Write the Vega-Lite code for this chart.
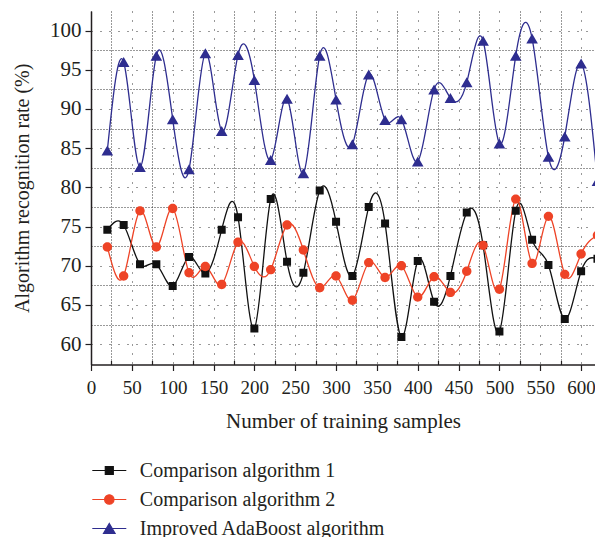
{
  "$schema": "https://vega.github.io/schema/vega-lite/v6.json",
  "width": 504,
  "height": 353.5,
  "autosize": {"type": "none"},
  "padding": {"left": 91, "top": 11, "right": 0, "bottom": 172.5},
  "background": "white",
  "config": {
    "view": {"stroke": null},
    "font": "Liberation Serif",
    "axis": {"labelFont": "Liberation Serif", "titleFont": "Liberation Serif", "titleFontWeight": "normal", "labelColor": "#231f20", "titleColor": "#231f20", "domainColor": "#231f20", "tickColor": "#231f20"},
    "legend": {"labelFont": "Liberation Serif", "orient": "none", "legendX": 7.3, "legendY": 448.5, "direction": "vertical", "symbolSize": 400, "labelFontSize": 20, "labelLimit": 400, "labelOffset": 19.5, "rowPadding": 8, "padding": 0, "labelColor": "#231f20", "symbolStrokeWidth": 1.2, "symbolOpacity": 1}
  },
  "data": {
    "values": [
      {"n": 20, "Comparison algorithm 1": 74.6, "Comparison algorithm 2": 72.4, "Improved AdaBoost algorithm": 84.7},
      {"n": 40, "Comparison algorithm 1": 75.2, "Comparison algorithm 2": 68.7, "Improved AdaBoost algorithm": 96.0},
      {"n": 60, "Comparison algorithm 1": 70.2, "Comparison algorithm 2": 77.0, "Improved AdaBoost algorithm": 82.6},
      {"n": 80, "Comparison algorithm 1": 70.2, "Comparison algorithm 2": 72.4, "Improved AdaBoost algorithm": 96.8},
      {"n": 100, "Comparison algorithm 1": 67.4, "Comparison algorithm 2": 77.3, "Improved AdaBoost algorithm": 88.7},
      {"n": 120, "Comparison algorithm 1": 71.1, "Comparison algorithm 2": 69.1, "Improved AdaBoost algorithm": 82.3},
      {"n": 140, "Comparison algorithm 1": 69.0, "Comparison algorithm 2": 69.9, "Improved AdaBoost algorithm": 97.1},
      {"n": 160, "Comparison algorithm 1": 74.6, "Comparison algorithm 2": 67.6, "Improved AdaBoost algorithm": 87.2},
      {"n": 180, "Comparison algorithm 1": 76.2, "Comparison algorithm 2": 73.0, "Improved AdaBoost algorithm": 96.9},
      {"n": 200, "Comparison algorithm 1": 62.0, "Comparison algorithm 2": 69.9, "Improved AdaBoost algorithm": 93.7},
      {"n": 220, "Comparison algorithm 1": 78.5, "Comparison algorithm 2": 69.5, "Improved AdaBoost algorithm": 83.5},
      {"n": 240, "Comparison algorithm 1": 70.5, "Comparison algorithm 2": 75.2, "Improved AdaBoost algorithm": 91.3},
      {"n": 260, "Comparison algorithm 1": 69.1, "Comparison algorithm 2": 72.0, "Improved AdaBoost algorithm": 81.8},
      {"n": 280, "Comparison algorithm 1": 79.6, "Comparison algorithm 2": 67.2, "Improved AdaBoost algorithm": 96.8},
      {"n": 300, "Comparison algorithm 1": 75.6, "Comparison algorithm 2": 68.7, "Improved AdaBoost algorithm": 91.2},
      {"n": 320, "Comparison algorithm 1": 68.7, "Comparison algorithm 2": 65.6, "Improved AdaBoost algorithm": 85.5},
      {"n": 340, "Comparison algorithm 1": 77.5, "Comparison algorithm 2": 70.4, "Improved AdaBoost algorithm": 94.4},
      {"n": 360, "Comparison algorithm 1": 75.4, "Comparison algorithm 2": 68.5, "Improved AdaBoost algorithm": 88.6},
      {"n": 380, "Comparison algorithm 1": 60.9, "Comparison algorithm 2": 70.0, "Improved AdaBoost algorithm": 88.7},
      {"n": 400, "Comparison algorithm 1": 70.6, "Comparison algorithm 2": 66.0, "Improved AdaBoost algorithm": 83.3},
      {"n": 420, "Comparison algorithm 1": 65.4, "Comparison algorithm 2": 68.6, "Improved AdaBoost algorithm": 92.5},
      {"n": 440, "Comparison algorithm 1": 68.7, "Comparison algorithm 2": 66.6, "Improved AdaBoost algorithm": 91.4},
      {"n": 460, "Comparison algorithm 1": 76.8, "Comparison algorithm 2": 69.3, "Improved AdaBoost algorithm": 93.4},
      {"n": 480, "Comparison algorithm 1": 72.6, "Comparison algorithm 2": 72.6, "Improved AdaBoost algorithm": 98.7},
      {"n": 500, "Comparison algorithm 1": 61.6, "Comparison algorithm 2": 67.0, "Improved AdaBoost algorithm": 85.6},
      {"n": 520, "Comparison algorithm 1": 77.0, "Comparison algorithm 2": 78.5, "Improved AdaBoost algorithm": 96.8},
      {"n": 540, "Comparison algorithm 1": 73.3, "Comparison algorithm 2": 70.3, "Improved AdaBoost algorithm": 99.0},
      {"n": 560, "Comparison algorithm 1": 70.1, "Comparison algorithm 2": 76.3, "Improved AdaBoost algorithm": 83.9},
      {"n": 580, "Comparison algorithm 1": 63.2, "Comparison algorithm 2": 68.9, "Improved AdaBoost algorithm": 86.5},
      {"n": 600, "Comparison algorithm 1": 69.3, "Comparison algorithm 2": 71.5, "Improved AdaBoost algorithm": 95.8},
      {"n": 620, "Comparison algorithm 1": 70.9, "Comparison algorithm 2": 73.9, "Improved AdaBoost algorithm": 80.8}
    ]
  },
  "transform": [
    {"fold": ["Comparison algorithm 1", "Comparison algorithm 2", "Improved AdaBoost algorithm"], "as": ["s", "v"]}
  ],
  "encoding": {
    "x": {
      "field": "n", "type": "quantitative",
      "scale": {"domain": [0, 617], "nice": false, "zero": false},
      "axis": {
        "title": "Number of training samples",
        "values": [0, 25, 50, 75, 100, 125, 150, 175, 200, 225, 250, 275, 300, 325, 350, 375, 400, 425, 450, 475, 500, 525, 550, 575, 600],
        "labelExpr": "datum.value % 50 === 0 ? format(datum.value, 'd') : ''",
        "labelFontSize": 19,
        "labelPadding": 8,
        "labelOverlap": false,
        "labelFlush": false,
        "titleFontSize": 21,
        "titlePadding": 13,
        "domainWidth": 1.5,
        "tickWidth": 1.2,
        "tickSize": {"condition": {"test": "datum.value % 50 === 0", "value": 6}, "value": -4},
        "grid": true,
        "gridColor": "#333333",
        "gridWidth": 1,
        "gridDash": {"condition": {"test": "datum.value % 50 === 0", "value": [1, 8]}, "value": [1, 2]}
      }
    },
    "y": {
      "field": "v", "type": "quantitative",
      "scale": {"domain": [57.4, 102.5], "nice": false, "zero": false},
      "axis": {
        "title": "Algorithm recognition rate (%)",
        "values": [60, 62.5, 65, 67.5, 70, 72.5, 75, 77.5, 80, 82.5, 85, 87.5, 90, 92.5, 95, 97.5, 100],
        "labelExpr": "datum.value % 5 === 0 ? format(datum.value, 'd') : ''",
        "labelFontSize": 21,
        "labelPadding": 4,
        "labelOverlap": false,
        "labelFlush": false,
        "titleFontSize": 20,
        "titlePadding": 17,
        "domainWidth": 1.5,
        "tickWidth": 1.2,
        "tickSize": 6,
        "tickOpacity": {"condition": {"test": "datum.value % 5 === 0", "value": 1}, "value": 0},
        "grid": true,
        "gridColor": "#333333",
        "gridWidth": 1,
        "gridDash": {"condition": {"test": "datum.value % 5 === 0", "value": [1, 8]}, "value": [1, 2]}
      }
    }
  },
  "layer": [
    {
      "mark": {"type": "line", "interpolate": "natural", "strokeWidth": 1.3, "clip": false},
      "encoding": {
        "stroke": {
          "field": "s", "type": "nominal",
          "scale": {"domain": ["Comparison algorithm 1", "Comparison algorithm 2", "Improved AdaBoost algorithm"], "range": ["#111111", "#EE4326", "#2E2D8F"]},
          "legend": {"title": null}
        }
      }
    },
    {
      "mark": {"type": "point", "filled": true, "opacity": 1, "size": 400, "clip": false},
      "encoding": {
        "fill": {
          "field": "s", "type": "nominal",
          "scale": {"domain": ["Comparison algorithm 1", "Comparison algorithm 2", "Improved AdaBoost algorithm"], "range": ["#111111", "#EE4326", "#2E2D8F"]},
          "legend": {"title": null}
        },
        "shape": {
          "field": "s", "type": "nominal",
          "scale": {
            "domain": ["Comparison algorithm 1", "Comparison algorithm 2", "Improved AdaBoost algorithm"],
            "range": ["M-1.7,0H1.7M-0.4,-0.4H0.4V0.4H-0.4Z", "M-1.7,0H1.7M0.47,0A0.47,0.47,0,1,1,-0.47,0A0.47,0.47,0,1,1,0.47,0Z", "M-1.7,0H1.7M0,-0.5L0.58,0.5H-0.58Z"]
          },
          "legend": {"title": null}
        }
      }
    }
  ]
}
